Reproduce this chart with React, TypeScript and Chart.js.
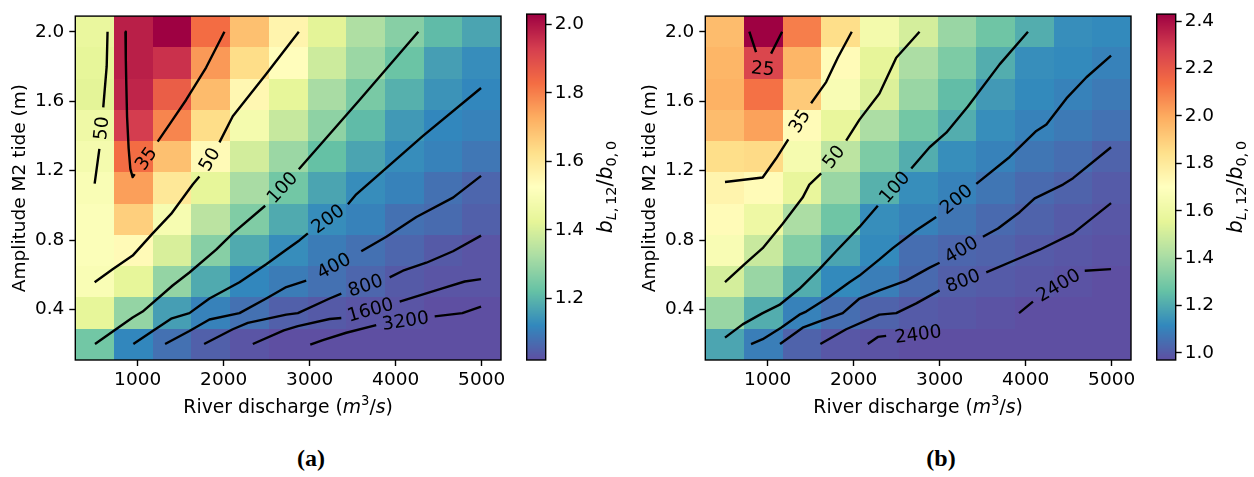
import React, { useEffect, useRef } from "react";
import { Chart, registerables } from "chart.js";

Chart.register(...registerables);

type Pt = [number, number] | null;
type Contour = { level: string; path: Pt[]; at: [number, number] };

// Grid centres of the parameter sweep
const discharge = [500, 950, 1400, 1850, 2300, 2750, 3200, 3650, 4100, 4550, 5000];
const tideAmplitude = [0.2, 0.38, 0.56, 0.74, 0.92, 1.1, 1.28, 1.46, 1.64, 1.82, 2.0];

const dischargeTicks = [1000, 2000, 3000, 4000, 5000];
const tideTicks = [0.4, 0.8, 1.2, 1.6, 2.0];
const ratioTicksA = [1.2, 1.4, 1.6, 1.8, 2.0];
const ratioTicksB = [1.0, 1.2, 1.4, 1.6, 1.8, 2.0, 2.2, 2.4];

// b_{L,12}/b_{0,0}, one row per tide amplitude (bottom to top), one column per discharge
const ratioA = [
  [1.24, 1.12, 1.08, 1.05, 1.03, 1.02, 1.02, 1.02, 1.02, 1.02, 1.02],
  [1.43, 1.29, 1.16, 1.11, 1.08, 1.05, 1.04, 1.03, 1.03, 1.02, 1.02],
  [1.50, 1.43, 1.29, 1.18, 1.12, 1.10, 1.08, 1.06, 1.04, 1.03, 1.03],
  [1.51, 1.54, 1.40, 1.27, 1.18, 1.13, 1.10, 1.08, 1.06, 1.04, 1.03],
  [1.51, 1.66, 1.49, 1.35, 1.26, 1.18, 1.13, 1.11, 1.08, 1.07, 1.05],
  [1.50, 1.75, 1.60, 1.43, 1.32, 1.24, 1.17, 1.13, 1.11, 1.08, 1.06],
  [1.48, 1.83, 1.69, 1.54, 1.39, 1.30, 1.22, 1.17, 1.13, 1.11, 1.09],
  [1.46, 1.93, 1.79, 1.63, 1.48, 1.37, 1.28, 1.21, 1.15, 1.12, 1.11],
  [1.42, 1.97, 1.86, 1.70, 1.55, 1.43, 1.32, 1.25, 1.19, 1.14, 1.12],
  [1.43, 1.98, 1.95, 1.76, 1.63, 1.53, 1.38, 1.30, 1.23, 1.16, 1.13],
  [1.44, 1.98, 2.03, 1.83, 1.69, 1.56, 1.42, 1.33, 1.27, 1.21, 1.17],
];

const ratioB = [
  [1.19, 1.09, 1.02, 0.99, 0.98, 0.97, 0.97, 0.97, 0.97, 0.97, 0.97],
  [1.37, 1.21, 1.10, 1.05, 1.02, 1.00, 0.99, 0.98, 0.97, 0.97, 0.97],
  [1.51, 1.37, 1.21, 1.12, 1.09, 1.04, 1.01, 1.00, 0.99, 0.98, 0.97],
  [1.66, 1.48, 1.32, 1.19, 1.12, 1.05, 1.03, 1.02, 1.00, 0.99, 0.98],
  [1.72, 1.60, 1.41, 1.28, 1.13, 1.10, 1.07, 1.04, 1.02, 1.00, 0.99],
  [1.75, 1.72, 1.57, 1.37, 1.22, 1.13, 1.10, 1.07, 1.04, 1.02, 1.00],
  [1.85, 1.86, 1.64, 1.45, 1.31, 1.21, 1.13, 1.10, 1.07, 1.05, 1.02],
  [1.95, 2.02, 1.72, 1.57, 1.41, 1.29, 1.21, 1.13, 1.10, 1.08, 1.06],
  [1.98, 2.13, 1.91, 1.66, 1.53, 1.37, 1.25, 1.16, 1.12, 1.10, 1.08],
  [1.97, 2.26, 1.97, 1.72, 1.56, 1.41, 1.31, 1.21, 1.13, 1.12, 1.10],
  [1.95, 2.43, 2.10, 1.85, 1.63, 1.51, 1.37, 1.28, 1.21, 1.13, 1.12],
];

// Labelled contour lines; null marks the gap where the inline label sits
const contoursA: Contour[] = [
  { level: "50", path: [[650, 2.0], [640, 1.8], [600, 1.565], null, [555, 1.326], [500, 1.125]], at: [578, 1.445] },
  {
    level: "35",
    path: [[858, 2.0], [862, 1.85], [868, 1.7], [877, 1.51], [895, 1.33], [915, 1.21], [942, 1.163], [965, 1.18], null,
      [1233, 1.367], [1396, 1.485], [1563, 1.607], [1796, 1.794], [2009, 2.0]],
    at: [1098, 1.27],
  },
  {
    level: "50",
    path: [[500, 0.558], [709, 0.633], [942, 0.711], [1175, 0.839], [1389, 0.951], [1640, 1.12], [1718, 1.166], null,
      [1951, 1.363], [2106, 1.513], [2495, 1.756], [2874, 2.0]],
    at: [1835, 1.265],
  },
  {
    level: "100",
    path: [[504, 0.202], [942, 0.355], [1058, 0.389], [1407, 0.539], [1602, 0.614], [1913, 0.745], [2106, 0.839], [2483, 0.998], null,
      [2874, 1.208], [3580, 1.607], [4264, 2.0]],
    at: [2680, 1.103],
  },
  {
    level: "200",
    path: [[950, 0.202], [1175, 0.277], [1389, 0.348], [1602, 0.38], [1835, 0.464], [2184, 0.558], [2495, 0.661], [2728, 0.745],
      [2883, 0.8], [2979, 0.839], null, [3445, 1.007], [3542, 1.064], [4318, 1.4], [4993, 1.676]],
    at: [3212, 0.923],
  },
  {
    level: "400",
    path: [[1319, 0.202], [1602, 0.277], [1835, 0.343], [2184, 0.38], [2495, 0.464], [2728, 0.53], [2960, 0.567], null,
      [3600, 0.736], [3892, 0.82], [4241, 0.933], [4667, 1.045], [4993, 1.17]],
    at: [3280, 0.652],
  },
  {
    level: "800",
    path: [[1773, 0.202], [2106, 0.287], [2281, 0.324], [2728, 0.371], [2863, 0.38], [3232, 0.464], [3368, 0.492], null,
      [3930, 0.586], [4085, 0.624], [4357, 0.67], [4667, 0.736], [4993, 0.826]],
    at: [3649, 0.539],
  },
  {
    level: "1600",
    path: [[2339, 0.202], [2700, 0.28], [2863, 0.305], [3232, 0.346], [3368, 0.352], null,
      [4047, 0.446], [4552, 0.524], [4803, 0.562], [4993, 0.576]],
    at: [3707, 0.399],
  },
  {
    level: "3200",
    path: [[3007, 0.198], [3154, 0.225], [3426, 0.267], [3774, 0.311], null, [4454, 0.361], [4776, 0.38], [4993, 0.417]],
    at: [4114, 0.336],
  },
];

const contoursB: Contour[] = [
  { level: "25", path: [[787, 2.0], [865, 1.882], null, [1040, 1.874], [1168, 2.0]], at: [942, 1.788] },
  {
    level: "35",
    path: [[504, 1.135], [942, 1.161], [1098, 1.27], [1240, 1.38], null, [1505, 1.588], [1680, 1.71], [1815, 1.85], [1978, 2.0]],
    at: [1372, 1.485],
  },
  {
    level: "50",
    path: [[504, 0.558], [729, 0.661], [942, 0.754], [1175, 0.895], [1407, 1.045], [1485, 1.12], [1622, 1.185], null,
      [1913, 1.373], [2068, 1.494], [2300, 1.644], [2495, 1.85], [2766, 2.0]],
    at: [1767, 1.279],
  },
  {
    level: "100",
    path: [[504, 0.239], [709, 0.315], [942, 0.38], [1136, 0.427], [1369, 0.52], [1602, 0.633], [1796, 0.736], [2068, 0.876],
      [2281, 0.998], null, [2670, 1.213], [2883, 1.335], [3077, 1.419], [3328, 1.569], [3697, 1.812], [4027, 2.0]],
    at: [2475, 1.105],
  },
  {
    level: "200",
    path: [[807, 0.202], [942, 0.23], [1156, 0.296], [1369, 0.371], [1447, 0.389], [1718, 0.474], [1951, 0.558], [2068, 0.596],
      [2300, 0.689], [2455, 0.754], [2728, 0.857], [2960, 0.933], null, [3426, 1.124], [3814, 1.279], [4124, 1.429],
      [4241, 1.466], [4474, 1.616], [4707, 1.738], [4993, 1.863]],
    at: [3193, 1.035],
  },
  {
    level: "400",
    path: [[1144, 0.202], [1407, 0.296], [1602, 0.333], [1873, 0.38], [2068, 0.464], [2300, 0.511], [2611, 0.567], [2883, 0.642],
      [2999, 0.67], null, [3503, 0.82], [3678, 0.867], [3930, 0.961], [4105, 1.041], [4434, 1.12], [4551, 1.157], [4993, 1.335]],
    at: [3251, 0.745],
  },
  {
    level: "800",
    path: [[1613, 0.202], [1913, 0.287], [2300, 0.371], [2495, 0.38], [2728, 0.436], [2999, 0.511], null,
      [3542, 0.614], [3852, 0.68], [4163, 0.745], [4551, 0.839], [4993, 1.013]],
    at: [3270, 0.566],
  },
  { level: "2400", path: [[2164, 0.202], [2281, 0.243], [2378, 0.249], null], at: [2750, 0.258] },
  { level: "2400", path: [[3923, 0.38], [4085, 0.446], null, [4687, 0.624], [4993, 0.633]], at: [4380, 0.54] },
];

// Spectral colormap, reversed (low = purple, high = crimson)
const SPECTRAL_R = [
  "#5e4fa2", "#3288bd", "#66c2a5", "#abdda4", "#e6f598", "#ffffbf",
  "#fee08b", "#fdae61", "#f46d43", "#d53e4f", "#9e0142",
];
const STOPS = SPECTRAL_R.map((h) => [1, 3, 5].map((k) => parseInt(h.slice(k, k + 2), 16)));

function spectralR(t: number): string {
  const c = Math.min(1, Math.max(0, t)) * (STOPS.length - 1);
  const i = Math.min(STOPS.length - 2, Math.floor(c));
  const f = c - i;
  const rgb = STOPS[i].map((a, k) => Math.round(a + (STOPS[i + 1][k] - a) * f));
  return `rgb(${rgb[0]},${rgb[1]},${rgb[2]})`;
}

function edgesOf(c: number[]): number[] {
  const e = [c[0] - (c[1] - c[0]) / 2];
  for (let i = 1; i < c.length; i++) e.push((c[i - 1] + c[i]) / 2);
  e.push(c[c.length - 1] + (c[c.length - 1] - c[c.length - 2]) / 2);
  return e;
}

const FONT = '"DejaVu Sans", sans-serif';
const INK = "#000";
const TICK_SIZE = 18.5;
const TITLE_SIZE = 18.8;

// Canvas geometry (pixels)
const MAIN_W = 515;
const MAIN_H = 430;
const AX = { left: 75.3, right: 501, top: 6.7, bottom: 360 };
const BAR_X0 = 520;
const BAR_W = 104;
const BAR_H = 400;
const BAR_LEFT = 526.7;
const BAR_RIGHT = 545.7;

type Seg = { t: string; it?: boolean; sc?: number; dy?: number };

function drawRich(ctx: CanvasRenderingContext2D, segs: Seg[], cx: number, by: number, size: number, rot: number) {
  const fontOf = (s: Seg) => `${s.it ? "italic " : ""}${size * (s.sc ?? 1)}px ${FONT}`;
  ctx.save();
  ctx.translate(cx, by);
  ctx.rotate(rot);
  let w = 0;
  for (const s of segs) {
    ctx.font = fontOf(s);
    w += ctx.measureText(s.t).width;
  }
  let x = -w / 2;
  ctx.fillStyle = INK;
  ctx.textAlign = "left";
  ctx.textBaseline = "alphabetic";
  for (const s of segs) {
    ctx.font = fontOf(s);
    ctx.fillText(s.t, x, (s.dy ?? 0) * size);
    x += ctx.measureText(s.t).width;
  }
  ctx.restore();
}

const xTitle: Seg[] = [
  { t: "River discharge (" },
  { t: "m", it: true },
  { t: "3", sc: 0.7, dy: -0.42 },
  { t: "/" },
  { t: "s", it: true },
  { t: ")" },
];
const yTitle: Seg[] = [{ t: "Amplitude M2 tide (m)" }];
const barTitle: Seg[] = [
  { t: "b", it: true },
  { t: "L", it: true, sc: 0.7, dy: 0.24 },
  { t: ",\u200912", sc: 0.7, dy: 0.24 },
  { t: "/" },
  { t: "b", it: true },
  { t: "0,\u20090", sc: 0.7, dy: 0.24 },
];

type Panel = { tag: string; shift: number; values: number[][]; contours: Contour[]; barTicks: number[] };

const PANELS: Panel[] = [
  { tag: "(a)", shift: 0, values: ratioA, contours: contoursA, barTicks: ratioTicksA },
  { tag: "(b)", shift: 630, values: ratioB, contours: contoursB, barTicks: ratioTicksB },
];

function rangeOf(values: number[][]) {
  const flat = values.flat();
  return { vmin: Math.min(...flat), vmax: Math.max(...flat) };
}

const frame = {
  id: "frame",
  afterDraw(chart: any) {
    const { ctx, chartArea: a } = chart;
    ctx.save();
    ctx.strokeStyle = INK;
    ctx.lineWidth = 1.4;
    ctx.strokeRect(a.left, a.top, a.right - a.left, a.bottom - a.top);
    ctx.restore();
  },
};

function mainConfig(p: Panel): any {
  const xEdges = edgesOf(discharge);
  const yEdges = edgesOf(tideAmplitude);
  const { vmin, vmax } = rangeOf(p.values);

  const heatmap = {
    id: "heatmap",
    beforeDatasetsDraw(chart: any) {
      const { ctx, scales } = chart;
      const { x, y } = scales;
      ctx.save();
      p.values.forEach((row, j) =>
        row.forEach((v, i) => {
          const x0 = Math.round(x.getPixelForValue(xEdges[i]));
          const x1 = Math.round(x.getPixelForValue(xEdges[i + 1]));
          const y0 = Math.round(y.getPixelForValue(yEdges[j + 1]));
          const y1 = Math.round(y.getPixelForValue(yEdges[j]));
          ctx.fillStyle = spectralR((v - vmin) / (vmax - vmin));
          ctx.fillRect(x0, y0, x1 - x0, y1 - y0);
        })
      );
      ctx.restore();
    },
  };

  const contourLabels = {
    id: "contourLabels",
    afterDatasetsDraw(chart: any) {
      const { ctx, scales } = chart;
      const { x, y } = scales;
      ctx.save();
      ctx.font = `${TICK_SIZE}px ${FONT}`;
      ctx.fillStyle = INK;
      ctx.textAlign = "center";
      ctx.textBaseline = "middle";
      for (const c of p.contours) {
        const k = c.path.indexOf(null);
        const after = c.path[k + 1];
        const a = (after ? c.path[k - 1] : c.path[k - 2]) as [number, number];
        const b = (after ? after : c.path[k - 1]) as [number, number];
        let ang = Math.atan2(
          y.getPixelForValue(b[1]) - y.getPixelForValue(a[1]),
          x.getPixelForValue(b[0]) - x.getPixelForValue(a[0])
        );
        if (ang > Math.PI / 2) ang -= Math.PI;
        if (ang <= -Math.PI / 2) ang += Math.PI;
        ctx.save();
        ctx.translate(x.getPixelForValue(c.at[0]), y.getPixelForValue(c.at[1]));
        ctx.rotate(ang);
        ctx.fillText(c.level, 0, 1);
        ctx.restore();
      }
      ctx.restore();
    },
  };

  const titles = {
    id: "titles",
    afterDraw(chart: any) {
      const { ctx, chartArea: a } = chart;
      drawRich(ctx, xTitle, (a.left + a.right) / 2, 413, TITLE_SIZE, 0);
      drawRich(ctx, yTitle, 24.5, (a.top + a.bottom) / 2, TICK_SIZE, -Math.PI / 2);
    },
  };

  const tickFont = { family: FONT, size: TICK_SIZE };

  return {
    type: "line",
    data: {
      datasets: p.contours.map((c) => {
        let lastX = 0;
        return {
          data: c.path.map((pt) => {
            if (pt) {
              lastX = pt[0];
              return { x: pt[0], y: pt[1] };
            }
            return { x: lastX, y: null };
          }),
          borderColor: INK,
          borderWidth: 2.4,
          borderJoinStyle: "round",
          pointRadius: 0,
          tension: 0,
          spanGaps: false,
          fill: false,
        };
      }),
    },
    options: {
      responsive: false,
      animation: false,
      devicePixelRatio: 1,
      events: [],
      layout: { padding: { left: 0, top: AX.top, right: MAIN_W - AX.right, bottom: 0 } },
      plugins: { legend: { display: false }, tooltip: { enabled: false } },
      scales: {
        x: {
          type: "linear",
          min: xEdges[0],
          max: xEdges[xEdges.length - 1],
          afterBuildTicks: (s: any) => {
            s.ticks = dischargeTicks.map((v) => ({ value: v }));
          },
          afterFit: (s: any) => {
            s.height = MAIN_H - AX.bottom;
          },
          ticks: { font: tickFont, color: INK, padding: 3, autoSkip: false, maxRotation: 0, minRotation: 0, callback: (v: any) => String(v) },
          grid: { drawOnChartArea: false, tickLength: 6, tickColor: INK, tickWidth: 1.4 },
          border: { display: false },
        },
        y: {
          type: "linear",
          min: yEdges[0],
          max: yEdges[yEdges.length - 1],
          afterBuildTicks: (s: any) => {
            s.ticks = tideTicks.map((v) => ({ value: v }));
          },
          afterFit: (s: any) => {
            s.width = AX.left;
          },
          ticks: { font: tickFont, color: INK, padding: 5, autoSkip: false, callback: (v: any) => Number(v).toFixed(1) },
          grid: { drawOnChartArea: false, tickLength: 6, tickColor: INK, tickWidth: 1.4 },
          border: { display: false },
        },
      },
    },
    plugins: [heatmap, contourLabels, frame, titles],
  };
}

function barConfig(p: Panel): any {
  const { vmin, vmax } = rangeOf(p.values);

  const gradient = {
    id: "gradient",
    beforeDatasetsDraw(chart: any) {
      const { ctx, chartArea: a, scales } = chart;
      ctx.save();
      for (let py = Math.floor(a.top); py < Math.ceil(a.bottom); py++) {
        const v = scales.y.getValueForPixel(py + 0.5);
        ctx.fillStyle = spectralR((v - vmin) / (vmax - vmin));
        ctx.fillRect(a.left, py, a.right - a.left, 1);
      }
      ctx.restore();
    },
  };

  const label = {
    id: "barLabel",
    afterDraw(chart: any) {
      const { ctx, chartArea: a } = chart;
      drawRich(ctx, barTitle, 611.5 - BAR_X0, (a.top + a.bottom) / 2, 20.5, -Math.PI / 2);
    },
  };

  return {
    type: "line",
    data: { datasets: [] },
    options: {
      responsive: false,
      animation: false,
      devicePixelRatio: 1,
      events: [],
      layout: { padding: { left: BAR_LEFT - BAR_X0, top: AX.top, right: 0, bottom: BAR_H - AX.bottom } },
      plugins: { legend: { display: false }, tooltip: { enabled: false } },
      scales: {
        x: { type: "linear", display: false, min: 0, max: 1 },
        y: {
          type: "linear",
          position: "right",
          min: vmin,
          max: vmax,
          afterBuildTicks: (s: any) => {
            s.ticks = p.barTicks.map((v) => ({ value: v }));
          },
          afterFit: (s: any) => {
            s.width = BAR_W - (BAR_RIGHT - BAR_X0);
          },
          ticks: { font: { family: FONT, size: TICK_SIZE }, color: INK, padding: 3, autoSkip: false, callback: (v: any) => Number(v).toFixed(1) },
          grid: { drawOnChartArea: false, tickLength: 6, tickColor: INK, tickWidth: 1.4 },
          border: { display: false },
        },
      },
    },
    plugins: [gradient, frame, label],
  };
}

export default function App() {
  const refs = useRef<(HTMLCanvasElement | null)[]>([]);

  useEffect(() => {
    const charts: Chart[] = [];
    PANELS.forEach((p, i) => {
      const main = refs.current[2 * i];
      const bar = refs.current[2 * i + 1];
      if (main) charts.push(new Chart(main, mainConfig(p)));
      if (bar) charts.push(new Chart(bar, barConfig(p)));
    });
    return () => charts.forEach((c) => c.destroy());
  }, []);

  return (
    <div
      style={{
        position: "fixed",
        left: 0,
        top: 0,
        width: 1254,
        height: 477,
        background: "#fff",
        overflow: "hidden",
      }}
    >
      {PANELS.map((p, i) => (
        <React.Fragment key={p.tag}>
          <canvas
            ref={(el) => {
              refs.current[2 * i] = el;
            }}
            width={MAIN_W}
            height={MAIN_H}
            style={{ position: "absolute", left: p.shift, top: 0, width: MAIN_W, height: MAIN_H }}
          />
          <canvas
            ref={(el) => {
              refs.current[2 * i + 1] = el;
            }}
            width={BAR_W}
            height={BAR_H}
            style={{ position: "absolute", left: p.shift + BAR_X0, top: 0, width: BAR_W, height: BAR_H }}
          />
          <div
            style={{
              position: "absolute",
              left: p.shift + 311 - 40,
              top: 445,
              width: 80,
              height: 30,
              lineHeight: "30px",
              textAlign: "center",
              font: 'bold 24px "Liberation Serif", serif',
              color: "#000",
            }}
          >
            {p.tag}
          </div>
        </React.Fragment>
      ))}
    </div>
  );
}
